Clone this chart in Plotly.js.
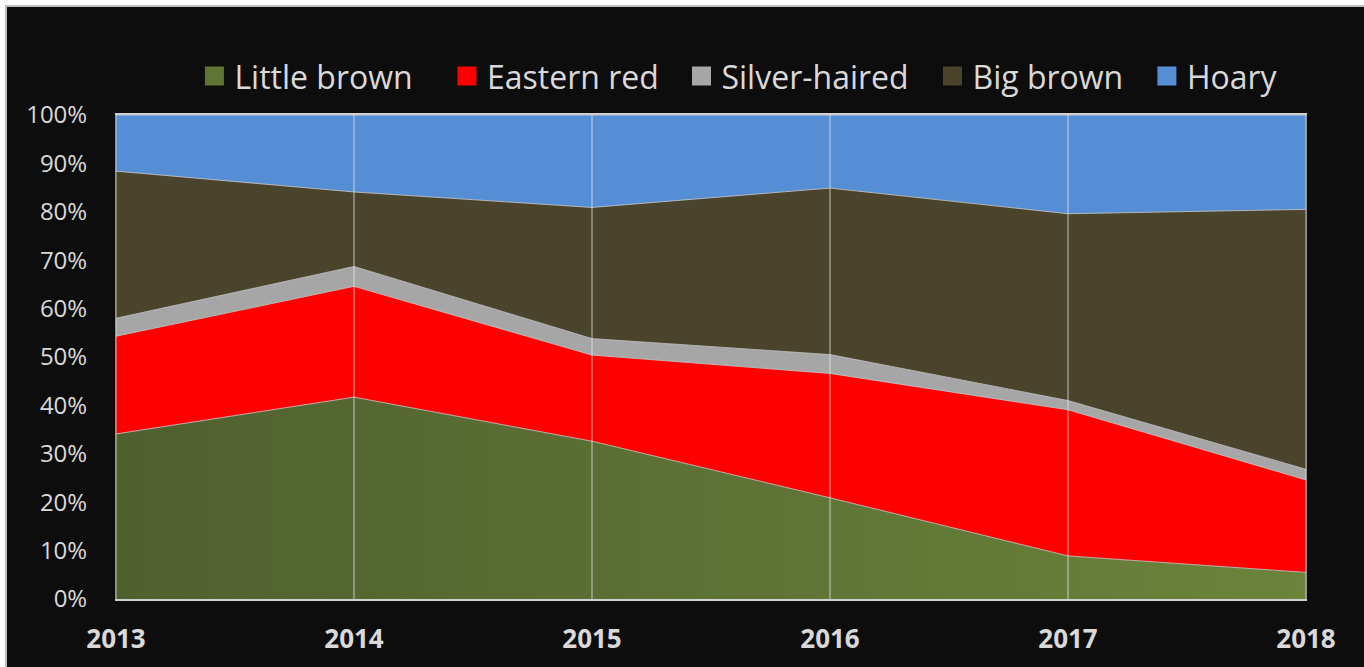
<!DOCTYPE html>
<html>
<head>
<meta charset="utf-8">
<script src="https://cdn.plot.ly/plotly-3.0.1.min.js"></script>
<style>
  html, body { margin: 0; padding: 0; background: #ffffff; width: 1364px; height: 667px; overflow: hidden; }
  #frame { position: absolute; left: 5px; top: 5px; width: 1359px; height: 662px;
           border-left: 2px solid #bfbfbf; border-top: 2px solid #bfbfbf; box-sizing: border-box; background: #0d0d0d; }
  #chart { position: absolute; left: 0; top: 0; width: 1357px; height: 660px; }
</style>
</head>
<body>
<div id="frame"><div id="chart"></div></div>
<script>
// ---- data (percent share per year) ----
const years = [2013, 2014, 2015, 2016, 2017, 2018];
const littleBrown  = [34.1, 41.7, 32.6, 20.9,  8.9,  5.5];
const easternRed   = [20.2, 22.9, 17.8, 25.7, 30.2, 19.1];
const silverHaired = [ 3.7,  4.1,  3.4,  3.9,  1.9,  2.2];
const bigBrown     = [30.4, 15.4, 27.1, 34.4, 38.6, 53.7];
const hoary        = [11.6, 15.9, 19.1, 15.1, 20.4, 19.5];
const seriesNames  = ['Little brown', 'Eastern red', 'Silver-haired', 'Big brown', 'Hoary'];
const yTickVals    = [0, 10, 20, 30, 40, 50, 60, 70, 80, 90, 100];
const yTickText    = ['0%', '10%', '20%', '30%', '40%', '50%', '60%', '70%', '80%', '90%', '100%'];

const seriesValues = [littleBrown, easternRed, silverHaired, bigBrown, hoary];
const fills = ['#5a6f33', '#ff0000', '#a6a6a6', '#4a442c', '#558ed5'];
const legendFills = ['#5f7536', '#ff0000', '#a6a6a6', '#4a442c', '#558ed5'];
const legendX = [0.0659, 0.2781, 0.4752, 0.6861, 0.8663];
const edge = 'rgba(200,200,200,0.85)';

const traces = [];
seriesValues.forEach((vals, i) => {
  const t = {
    type: 'scatter', mode: 'lines', x: years, y: vals, name: seriesNames[i],
    stackgroup: 'one', groupnorm: 'percent',
    line: { color: edge, width: 1 },
    fillcolor: fills[i], showlegend: false, hoverinfo: 'skip'
  };
  if (i === 0) {
    t.fillgradient = { type: 'horizontal', colorscale: [[0, '#4f602f'], [1, '#6b843b']] };
  }
  traces.push(t);
});
// legend entries, one legend per entry
seriesValues.forEach((vals, i) => {
  traces.push({
    type: 'scatter', mode: 'markers', x: [null], y: [null], name: seriesNames[i],
    legend: i === 0 ? 'legend' : 'legend' + (i + 1),
    marker: { symbol: 'square', size: 16, color: legendFills[i],
              line: { color: legendFills[i], width: 3 } },
    showlegend: true, hoverinfo: 'skip'
  });
});

const shapes = years.map(yr => ({
  type: 'line', xref: 'x', yref: 'paper', x0: yr, x1: yr, y0: 0, y1: 1,
  line: { color: 'rgba(235,235,235,0.5)', width: 1.5 }, layer: 'above'
}));

const legendBase = {
  orientation: 'h', xanchor: 'left', y: 1.08, yanchor: 'middle',
  font: { family: 'Open Sans, sans-serif', size: 32, color: '#d9d9d9' },
  bgcolor: 'rgba(0,0,0,0)'
};

const layout = {
  width: 1357, height: 660,
  paper_bgcolor: '#0d0d0d', plot_bgcolor: '#0d0d0d',
  margin: { l: 109, r: 58, t: 108, b: 68 },
  font: { family: 'Open Sans, sans-serif', color: '#d9d9d9' },
  showlegend: true,
  xaxis: {
    type: 'linear', range: [years[0], years[years.length - 1]],
    tickvals: years, ticktext: years.map(String),
    showgrid: false, zeroline: false,
    showline: true, linecolor: '#d0d0d0', linewidth: 2, mirror: true,
    ticks: '', ticklabelstandoff: 16,
    tickfont: { family: 'Open Sans, sans-serif', size: 26, color: '#d9d9d9', weight: 'bold' }
  },
  yaxis: {
    range: [0, 100], tickvals: yTickVals, ticktext: yTickText,
    showgrid: false, zeroline: false,
    showline: true, linecolor: 'rgba(200,200,200,0.7)', linewidth: 1, mirror: true,
    ticks: '', ticklabelstandoff: 23,
    tickfont: { family: 'Open Sans, sans-serif', size: 24, color: '#d9d9d9' }
  },
  shapes: shapes
};
legendX.forEach((lx, i) => {
  layout[i === 0 ? 'legend' : 'legend' + (i + 1)] = Object.assign({}, legendBase, { x: lx });
});

Plotly.newPlot('chart', traces, layout, { displayModeBar: false, staticPlot: true });
</script>
</body>
</html>
